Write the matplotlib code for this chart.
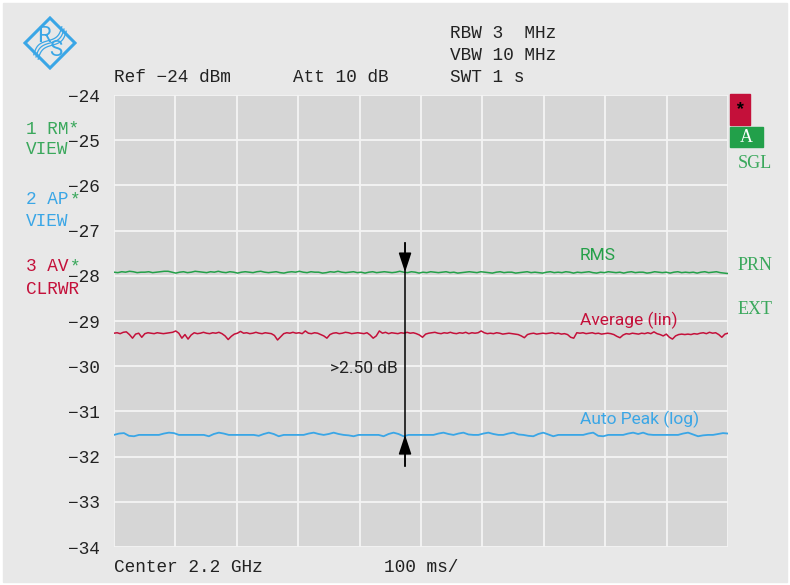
import matplotlib
matplotlib.use("Agg")
import matplotlib.pyplot as plt
import numpy as np
from matplotlib.patches import Rectangle, Polygon

# %% Data (dBm)
SWEEP_MS = 1000
Y_TICKS = [-24, -25, -26, -27, -28, -29, -30, -31, -32, -33, -34]
Y_LABELS = ["\u221224", "\u221225", "\u221226", "\u221227", "\u221228", "\u221229",
            "\u221230", "\u221231", "\u221232", "\u221233", "\u221234"]
X_TICKS = [0, 100, 200, 300, 400, 500, 600, 700, 800, 900, 1000]

rms_trace = [
    -27.92, -27.93, -27.91, -27.92, -27.90, -27.91, -27.93, -27.92, -27.92, -27.91,
    -27.93, -27.92, -27.91, -27.90, -27.90, -27.92, -27.94, -27.92, -27.91, -27.93,
    -27.92, -27.90, -27.91, -27.92, -27.93, -27.91, -27.92, -27.90, -27.92, -27.93,
    -27.91, -27.92, -27.94, -27.92, -27.91, -27.92, -27.93, -27.91, -27.90, -27.92,
    -27.93, -27.92, -27.91, -27.93, -27.94, -27.92, -27.91, -27.92, -27.90, -27.92,
    -27.93, -27.91, -27.92, -27.92, -27.94, -27.93, -27.91, -27.92, -27.90, -27.92,
    -27.93, -27.92, -27.91, -27.93, -27.92, -27.94, -27.92, -27.91, -27.93, -27.92,
    -27.91, -27.92, -27.93, -27.92, -27.90, -27.92, -27.93, -27.91, -27.92, -27.94,
    -27.92, -27.93, -27.91, -27.92, -27.93, -27.92, -27.91, -27.93, -27.92, -27.94,
    -27.93, -27.92, -27.91, -27.92, -27.93, -27.91, -27.92, -27.93, -27.94, -27.92,
    -27.91, -27.93, -27.92, -27.92, -27.94, -27.93, -27.92, -27.91, -27.93, -27.92,
    -27.93, -27.94, -27.92, -27.91, -27.93, -27.92, -27.93, -27.91, -27.92, -27.94,
    -27.92, -27.93, -27.92, -27.91, -27.93, -27.94, -27.92, -27.93, -27.91, -27.92,
    -27.93, -27.92, -27.94, -27.92, -27.91, -27.93, -27.92, -27.92, -27.94, -27.93,
    -27.91, -27.92, -27.93, -27.92, -27.94, -27.92, -27.91, -27.93, -27.92, -27.93,
    -27.92, -27.94, -27.92, -27.91, -27.93, -27.92, -27.91, -27.93, -27.94, -27.95,
]

avg_trace = [
    -29.27, -29.26, -29.28, -29.25, -29.24, -29.30, -29.38, -29.29, -29.27, -29.36,
    -29.28, -29.26, -29.27, -29.28, -29.26, -29.27, -29.28, -29.27, -29.26, -29.25,
    -29.22, -29.27, -29.38, -29.30, -29.40, -29.31, -29.26, -29.28, -29.27, -29.25,
    -29.27, -29.28, -29.26, -29.27, -29.25, -29.28, -29.33, -29.41, -29.34, -29.29,
    -29.27, -29.23, -29.27, -29.26, -29.28, -29.27, -29.25, -29.27, -29.28, -29.26,
    -29.27, -29.28, -29.32, -29.42, -29.35, -29.28, -29.26, -29.27, -29.25, -29.27,
    -29.26, -29.28, -29.22, -29.27, -29.28, -29.26, -29.27, -29.30, -29.33, -29.38,
    -29.30, -29.27, -29.26, -29.28, -29.27, -29.25, -29.26, -29.28, -29.27, -29.26,
    -29.27, -29.28, -29.26, -29.31, -29.38, -29.33, -29.22, -29.27, -29.25, -29.28,
    -29.26, -29.27, -29.28, -29.26, -29.27, -29.25, -29.27, -29.26, -29.28, -29.31,
    -29.36, -29.29, -29.27, -29.26, -29.25, -29.27, -29.28, -29.26, -29.27, -29.25,
    -29.27, -29.28, -29.26, -29.27, -29.25, -29.28, -29.26, -29.27, -29.26, -29.22,
    -29.26, -29.28, -29.27, -29.28, -29.26, -29.27, -29.29, -29.28, -29.27, -29.28,
    -29.29, -29.30, -29.33, -29.37, -29.30, -29.28, -29.27, -29.29, -29.28, -29.27,
    -29.28, -29.27, -29.26, -29.28, -29.27, -29.29, -29.28, -29.30, -29.36, -29.38,
    -29.26, -29.27, -29.26, -29.28, -29.27, -29.26, -29.28, -29.27, -29.29, -29.28,
    -29.27, -29.28, -29.30, -29.34, -29.37, -29.31, -29.28, -29.29, -29.27, -29.28,
    -29.29, -29.27, -29.28, -29.26, -29.28, -29.24, -29.28, -29.30, -29.33, -29.29,
    -29.36, -29.40, -29.33, -29.30, -29.29, -29.30, -29.29, -29.30, -29.28, -29.29,
    -29.27, -29.26, -29.28, -29.25, -29.27, -29.26, -29.30, -29.36, -29.29, -29.27,
]

peak_trace = [
    -31.52, -31.49, -31.48, -31.54, -31.55, -31.52, -31.52, -31.52, -31.52, -31.52,
    -31.49, -31.47, -31.48, -31.52, -31.52, -31.52, -31.52, -31.52, -31.52, -31.55,
    -31.50, -31.47, -31.49, -31.52, -31.52, -31.52, -31.52, -31.52, -31.52, -31.54,
    -31.50, -31.47, -31.50, -31.55, -31.52, -31.52, -31.52, -31.52, -31.52, -31.49,
    -31.47, -31.50, -31.52, -31.50, -31.47, -31.50, -31.52, -31.53, -31.55, -31.52,
    -31.52, -31.52, -31.52, -31.52, -31.55, -31.50, -31.47, -31.50, -31.55, -31.52,
    -31.52, -31.52, -31.52, -31.52, -31.52, -31.49, -31.47, -31.50, -31.52, -31.49,
    -31.47, -31.51, -31.52, -31.52, -31.49, -31.47, -31.50, -31.52, -31.52, -31.49,
    -31.47, -31.51, -31.52, -31.54, -31.55, -31.50, -31.47, -31.51, -31.55, -31.52,
    -31.52, -31.52, -31.52, -31.52, -31.52, -31.49, -31.47, -31.54, -31.55, -31.52,
    -31.52, -31.52, -31.52, -31.49, -31.47, -31.50, -31.47, -31.51, -31.52, -31.52,
    -31.52, -31.52, -31.52, -31.52, -31.49, -31.47, -31.51, -31.55, -31.53, -31.52,
    -31.52, -31.50, -31.48, -31.49,
]

MARKER_MS = 474

GREEN = "#24a049"
GREEN_TXT = "#3aa85c"
RED = "#c4103a"
BLUE = "#3aa6e6"
PLOT_BG = "#d6d6d6"
FRAME_BG = "#e8e8e8"
MONO = ["Liberation Mono", "DejaVu Sans Mono"]
NARROW = ["Roboto", "DejaVu Sans"]
SERIF = ["Liberation Serif", "DejaVu Serif"]
FS = 12.8

W, H = 790, 585
fig = plt.figure(figsize=(W / 100, H / 100), dpi=100, facecolor="white")
fig.patches.append(Rectangle((3 / W, 3 / H), 1 - 6 / W, 1 - 6 / H,
                             transform=fig.transFigure, color=FRAME_BG, zorder=-10))


def px(x, y):
    return x / W, 1 - y / H


def ftext(x, y, s, color="#222222", family=MONO, size=FS, **kw):
    fig.text(*px(x, y), s, color=color, family=family, fontsize=size,
             va="center", ha=kw.pop("ha", "left"), **kw)


# %% Main trace area
ax = fig.add_axes([114 / W, 1 - 547 / H, 614 / W, 452 / H])
ax.set_facecolor(PLOT_BG)
for s in ax.spines.values():
    s.set_visible(False)

t_rms = np.linspace(0, SWEEP_MS, len(rms_trace))
t_avg = np.linspace(0, SWEEP_MS, len(avg_trace))
t_peak = np.linspace(0, SWEEP_MS, len(peak_trace))
ax.plot(t_rms, rms_trace, color=GREEN, lw=1.1)
ax.plot(t_avg, avg_trace, color=RED, lw=1.1)
ax.plot(t_peak, peak_trace, color=BLUE, lw=1.3)

ax.set_xlim(0, SWEEP_MS)
ax.set_ylim(-34, -24)
ax.set_xticks(X_TICKS)
ax.set_xticklabels([])
ax.set_yticks(Y_TICKS)
ax.set_yticklabels(Y_LABELS, family=MONO, fontsize=FS, color="#222222")
ax.tick_params(length=0, pad=10)
ax.grid(True, color="#f4f4f4", lw=1.3)
ax.set_axisbelow(True)

# trace names
ax.text(759, -27.56, "RMS", color=GREEN, family=NARROW, fontsize=12.5, va="center")
ax.text(759, -28.98, "Average (lin)", color=RED, family=NARROW, fontsize=12.5, va="center")
ax.text(759, -31.17, "Auto Peak (log)", color=BLUE, family=NARROW, fontsize=12.5, va="center")

# measurement arrow between RMS and auto peak
rms_level = float(np.median(rms_trace))
peak_level = float(np.median(peak_trace))
ax.plot([MARKER_MS, MARKER_MS], [-27.27, -32.21], color="black", lw=1.1)
head = dict(arrowstyle="-|>,head_length=0.85,head_width=0.28", color="black",
            lw=1.1, mutation_scale=14, shrinkA=0, shrinkB=0)
ax.annotate("", xy=(MARKER_MS, rms_level), xytext=(MARKER_MS, -27.27), arrowprops=head)
ax.annotate("", xy=(MARKER_MS, peak_level), xytext=(MARKER_MS, -32.21), arrowprops=head)
ax.text(352, -30.06, ">2.50 dB", color="#222222", family=NARROW, fontsize=12.5, va="center")

# %% Header / footer texts
ftext(450, 34, "RBW 3  MHz")
ftext(450, 56, "VBW 10 MHz")
ftext(450, 77, "SWT 1 s")
ftext(114, 77, "Ref \u221224 dBm")
ftext(293, 77, "Att 10 dB")
ftext(114, 568, "Center 2.2 GHz")
ftext(384, 568, "100 ms/")

cw = 0.6 * FS / 72 * 100
ftext(26, 129, "1 RM*", color=GREEN_TXT)
ftext(26, 150, "VIEW", color=GREEN_TXT)
ftext(26, 200, "2 AP", color=BLUE)
ftext(27.5 + 4 * cw, 200, "*", color=GREEN_TXT)
ftext(26, 221, "VIEW", color=BLUE)
ftext(26, 267, "3 AV", color=RED)
ftext(27.5 + 4 * cw, 267, "*", color=GREEN_TXT)
ftext(26, 290, "CLRWR", color=RED)

# right status column
fig.patches.append(Rectangle(px(730, 125), 20 / W, 31 / H, transform=fig.transFigure,
                             color=RED, zorder=2))
ftext(740, 110, "*", color="black", family=MONO, size=13, ha="center", weight="bold")
fig.patches.append(Rectangle(px(730, 147), 33 / W, 20 / H, transform=fig.transFigure,
                             color="#22a04a", zorder=2))
ftext(746, 137, "A", color="white", family=SERIF, size=13, ha="center")
ftext(738, 164, "SGL", color=GREEN_TXT, family=SERIF, size=13)
ftext(738, 266, "PRN", color=GREEN_TXT, family=SERIF, size=13)
ftext(738, 309, "EXT", color=GREEN_TXT, family=SERIF, size=13)

# %% R&S logo
lg = fig.add_axes([23 / W, 1 - 70 / H, 54 / W, 54 / H])
lg.set_xlim(-27, 27)
lg.set_ylim(-27, 27)
lg.axis("off")
lg.add_patch(Polygon([(0, 25), (25, 0), (0, -25), (-25, 0)], closed=True,
                     fill=False, ec=BLUE, lw=2.2))
u = np.linspace(-1, 1, 40)
for off in (-2.2, 0, 2.2):
    d = 14 * u
    w = 2.5 * np.sin(np.pi * u)
    lg.plot(d + w + off, d - w - off, color=BLUE, lw=0.9)
lg.text(-6, 6, "R", color=BLUE, family=NARROW, fontsize=16, ha="center", va="center")
lg.text(6, -7, "S", color=BLUE, family=NARROW, fontsize=16, ha="center", va="center")

plt.savefig("out.png", dpi=100, facecolor=fig.get_facecolor())
